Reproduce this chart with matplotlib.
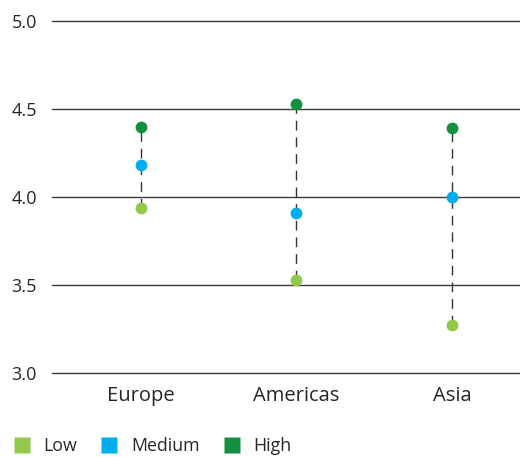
import matplotlib
matplotlib.use("Agg")
import matplotlib.pyplot as plt
from matplotlib.lines import Line2D

regions = ["Europe", "Americas", "Asia"]
low = [3.94, 3.53, 3.27]
medium = [4.18, 3.91, 4.00]
high = [4.40, 4.53, 4.39]
yticks = [3.0, 3.5, 4.0, 4.5, 5.0]

c_low = "#92c94a"
c_med = "#00aeef"
c_high = "#13903f"
txt = "#262626"

plt.rcParams['font.family'] = ['Open Sans', 'DejaVu Sans']

fig = plt.figure(figsize=(5.2, 4.57), dpi=100)
ax = fig.add_axes([0.1, 0.1838, 0.9, 0.7702])

xs = list(range(len(regions)))
for yv in yticks:
    ax.axhline(yv, color="#3a3a3a", lw=1.0, clip_on=False, zorder=1)

for x, lo, hi in zip(xs, low, high):
    ax.plot([x, x], [lo, hi], color="#333333", lw=1.0, dashes=(7, 5), zorder=2)

ms = 8.5
ax.plot(xs, low, 'o', color=c_low, ms=ms, zorder=3, mec='none')
ax.plot(xs, medium, 'o', color=c_med, ms=ms, zorder=3, mec='none')
ax.plot(xs, high, 'o', color=c_high, ms=ms, zorder=3, mec='none')

ax.set_xlim(-0.572, 2.437)
ax.set_ylim(3.0, 5.0)
ax.set_xticks(xs)
ax.set_xticklabels(regions, fontsize=14.5, color=txt)
ax.set_yticks(yticks)
ax.set_yticklabels([f"{v:.1f}" for v in yticks], fontsize=13, color=txt)
ax.tick_params(axis='both', length=0)
ax.tick_params(axis='x', pad=9)
ax.tick_params(axis='y', pad=11)
for s in ax.spines.values():
    s.set_visible(False)

handles = [Line2D([], [], marker='s', ls='none', color=c, ms=11.5, mec='none')
           for c in (c_low, c_med, c_high)]
fig.legend(handles, ["Low", "Medium", "High"], loc='center left',
           bbox_to_anchor=(13 / 520, 1 - 446 / 457), ncol=3, frameon=False,
           fontsize=12.8, handlelength=1.0, handletextpad=0.72, columnspacing=1.3,
           labelcolor=txt, borderaxespad=0, borderpad=0)

fig.savefig("out.png", dpi=100)
